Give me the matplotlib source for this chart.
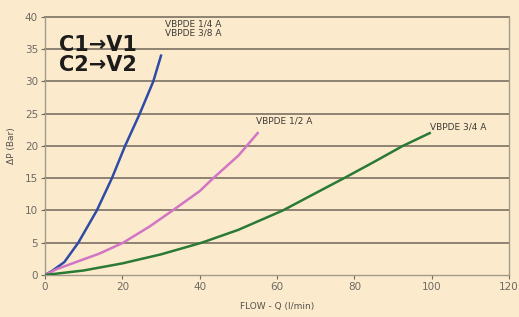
import matplotlib
matplotlib.use("Agg")
import matplotlib.pyplot as plt

blue_x = [0, 2, 5, 8.6, 13.4, 17.3, 20.7, 24.5, 28, 30]
blue_y = [0, 0.7, 2, 5, 10, 15, 20, 25, 30, 34]
pink_x = [0, 3, 8, 14, 20.2, 27, 33, 40, 43.5, 50, 55]
pink_y = [0, 0.9, 2, 3.3, 5, 7.5, 10, 13, 15, 18.5, 22]
green_x = [0, 10, 20, 30, 40.5, 50, 61.5, 70, 77.3, 85, 92.5, 99.5]
green_y = [0, 0.7, 1.8, 3.2, 5, 7, 10, 12.7, 15, 17.5, 20, 22]

x_ticks = [0, 20, 40, 60, 80, 100, 120]
y_ticks = [0, 5, 10, 15, 20, 25, 30, 35, 40]

bg = "#FBEBCC"
grid_c = "#8E8272"
tick_c = "#6E6A64"

fig = plt.figure(figsize=(5.19, 3.17), dpi=100, facecolor=bg)
ax = fig.add_axes([0.0867, 0.1325, 0.894, 0.8139], facecolor=bg)

for y in y_ticks[1:]:
    ax.axhline(y, color=grid_c, lw=1.4, zorder=1, clip_on=False)

ax.plot(blue_x, blue_y, color="#2F4BA6", lw=1.8, zorder=3)
ax.plot(pink_x, pink_y, color="#D175C4", lw=1.8, zorder=3)
ax.plot(green_x, green_y, color="#2A7A35", lw=1.8, zorder=3)

ax.set_xlim(0, 120)
ax.set_ylim(0, 40)
ax.set_xticks(x_ticks)
ax.set_yticks(y_ticks)
ax.spines["top"].set_visible(False)
for s in ["left", "bottom", "right"]:
    ax.spines[s].set_color("#A39A8C")
    ax.spines[s].set_linewidth(1.0)
ax.tick_params(colors=tick_c, labelsize=7.5, length=3, width=0.8, pad=2)

ax.set_xlabel("FLOW - Q (l/min)", fontsize=6.5, color="#55514C", labelpad=7)
ax.set_ylabel("ΔP (Bar)", fontsize=6.5, color="#55514C", labelpad=6)

txt_c = "#3F3B37"
ax.text(31, 38.2, "VBPDE 1/4 A\nVBPDE 3/8 A", fontsize=6.5, color=txt_c,
        va="center", ha="left", linespacing=0.95)
ax.text(54.5, 23.9, "VBPDE 1/2 A", fontsize=6.5, color=txt_c, va="center", ha="left")
ax.text(99.5, 23.0, "VBPDE 3/4 A", fontsize=6.5, color=txt_c, va="center", ha="left")

ax.text(3.6, 35.7, "C1→V1", fontsize=15, fontweight="bold", color="#1E1C1A",
        va="center", ha="left")
ax.text(3.6, 32.5, "C2→V2", fontsize=15, fontweight="bold", color="#1E1C1A",
        va="center", ha="left")

fig.savefig("out.png", dpi=100, facecolor=bg)
